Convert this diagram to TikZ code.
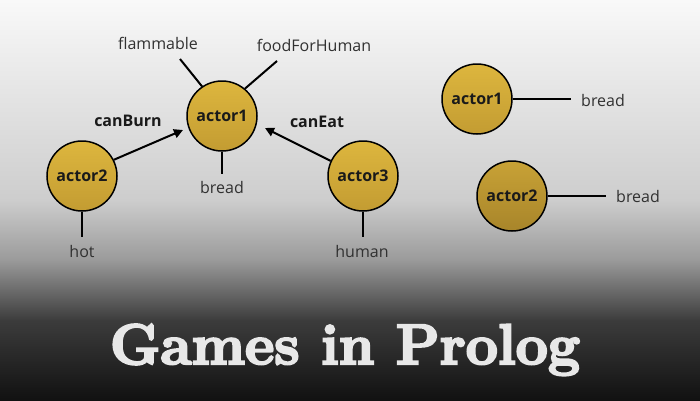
\documentclass[tikz,border=0pt]{standalone}
\usepackage{fontspec}
\setsansfont{Open Sans}
\newfontfamily\titlefont{Latin Modern Roman}[BoldFeatures={FakeBold=4}]
\usetikzlibrary{arrows.meta}
\definecolor{bgA}{HTML}{F9F9F9}
\definecolor{bgB}{HTML}{CDCDCD}
\definecolor{bgC}{HTML}{9A9A9A}
\definecolor{bgD}{HTML}{3C3C3C}
\definecolor{bgE}{HTML}{111111}
\definecolor{goldT}{HTML}{DDB63E}
\definecolor{goldB}{HTML}{C39C32}
\definecolor{goldDT}{HTML}{C8A236}
\definecolor{goldDB}{HTML}{A8852A}
\definecolor{titlecol}{HTML}{E8E8E8}
\definecolor{labcol}{HTML}{1A1A1A}
\tikzset{
  actor/.style={circle, draw=black, line width=1.5pt, minimum size=70pt, inner sep=0pt,
    top color=goldT, bottom color=goldB, font=\sffamily\bfseries\fontsize{16}{19}\selectfont, text=labcol},
  actordark/.style={actor, top color=goldDT, bottom color=goldDB},
  attr/.style={font=\sffamily\fontsize{16}{19}\selectfont, text=labcol!90, inner sep=1pt},
  rel/.style={font=\sffamily\bfseries\fontsize{16}{19}\selectfont, text=labcol, inner sep=1pt},
  link/.style={line width=2pt, black},
  arr/.style={line width=2pt, black, -{Triangle[length=9pt,width=9pt]}}
}
\begin{document}
\begin{tikzpicture}[x=1pt,y=-1pt]
\useasboundingbox (0,0) rectangle (700,400);
\shade[top color=bgA, bottom color=bgB] (0,0) rectangle (700,200.5);
\shade[top color=bgB, bottom color=bgC] (0,200) rectangle (700,260.5);
\shade[top color=bgC, bottom color=bgD] (0,260) rectangle (700,320.5);
\shade[top color=bgD, bottom color=bgE] (0,320) rectangle (700,400);

% left graph
\node[actor] (a1) at (222,116) {actor1};
\node[actor] (a2) at (82,176) {actor2};
\node[actor] (a3) at (363,176) {actor3};

\node[attr] (flam) at (158,43) {flammable};
\node[attr] (food) at (314,45) {foodForHuman};
\node[attr] (bread1) at (222,187) {bread};
\node[attr] (hot) at (82,251) {hot};
\node[attr] (human) at (362,251) {human};

\coordinate (flamE) at (180,59);
\coordinate (foodE) at (277,61);
\coordinate (breadE) at (222,174);
\coordinate (hotE) at (82,237);
\coordinate (humanE) at (363,237);

\draw[link] (a1.124) -- (flamE);
\draw[link] (a1.50) -- (foodE);
\draw[link] (a1.south) -- (breadE);
\draw[link] (a2.south) -- (hotE);
\draw[link] (a3.south) -- (humanE);

\coordinate (arrEnd2) at (183,130);
\coordinate (arrEnd3) at (265,128);
\draw[arr] (a2.27) -- (arrEnd2);
\draw[arr] (a3.155) -- (arrEnd3);

\node[rel] (canBurn) at (128,121) {canBurn};
\node[rel] (canEat) at (317,122) {canEat};

% right facts
\node[actor] (r1) at (477,99) {actor1};
\node[actordark] (r2) at (512,196) {actor2};
\coordinate (r1E) at (571,99);
\coordinate (r2E) at (606,196);
\draw[link] (r1.east) -- (r1E);
\draw[link] (r2.east) -- (r2E);
\node[attr, anchor=west] (rb1) at (580,100) {bread};
\node[attr, anchor=west] (rb2) at (615,196) {bread};

% title
\node[text=titlecol, font=\titlefont\bfseries\fontsize{57}{60}\selectfont, anchor=base] (title) at (345,364) {Games in Prolog};
\end{tikzpicture}
\end{document}
